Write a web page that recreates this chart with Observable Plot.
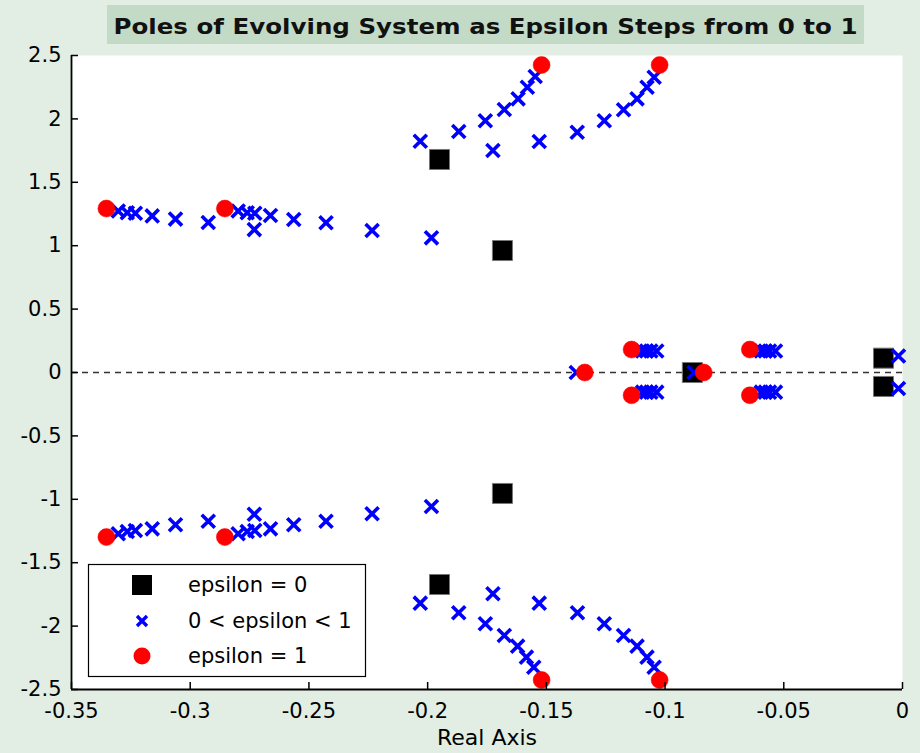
<!DOCTYPE html>
<html><head><meta charset="utf-8">
<script src="https://cdn.jsdelivr.net/npm/d3@7"></script>
<script src="https://cdn.jsdelivr.net/npm/@observablehq/plot@0.6"></script>
<style>
body{margin:0;background:#e2ede3;}
#wrap{position:relative;width:920px;height:753px;background:#e2ede3;overflow:hidden;}
#wrap svg{position:absolute;left:0;top:0;}
</style></head><body><div id="wrap"></div>
<script>
const titleText = "Poles of Evolving System as Epsilon Steps from 0 to 1";
const xLabel = "Real Axis";
const xTicks = [-0.35, -0.3, -0.25, -0.2, -0.15, -0.1, -0.05, 0];
const yTicks = [-2.5, -2, -1.5, -1, -0.5, 0, 0.5, 1, 1.5, 2, 2.5];
const legendLabels = ["epsilon = 0", "0 < epsilon < 1", "epsilon = 1"];

// epsilon = 0 poles
const eps0Re = [-0.195, -0.1685, -0.195, -0.1685, -0.0885, -0.008, -0.008];
const eps0Im = [1.68, 0.962, -1.672, -0.954, 0, 0.113, -0.11];

// 0 < epsilon < 1 poles
const midRe = [
  -0.2031, -0.1869, -0.1757, -0.1677, -0.1619, -0.1580, -0.1547,
  -0.1725, -0.1530, -0.1370, -0.1256, -0.1175, -0.1118, -0.1076, -0.1046,
  -0.3303, -0.3265, -0.3231, -0.3160, -0.3062, -0.2924,
  -0.2798, -0.2760, -0.2728, -0.2730, -0.2662, -0.2564, -0.2428, -0.2234, -0.1984,
  -0.3303, -0.3265, -0.3231, -0.3160, -0.3062, -0.2924,
  -0.2798, -0.2760, -0.2728, -0.2730, -0.2662, -0.2564, -0.2428, -0.2234, -0.1984,
  -0.2031, -0.1869, -0.1757, -0.1677, -0.1621, -0.1584, -0.1553,
  -0.1725, -0.1530, -0.1369, -0.1256, -0.1175, -0.1118, -0.1076, -0.1046,
  -0.1095, -0.1078, -0.1060, -0.1035,
  -0.1095, -0.1078, -0.1060, -0.1035,
  -0.0595, -0.0578, -0.0560, -0.0535,
  -0.0595, -0.0578, -0.0560, -0.0535,
  -0.1374, -0.0878, -0.0017, -0.0017
];
const midIm = [
  1.824, 1.901, 1.985, 2.074, 2.158, 2.250, 2.334,
  1.751, 1.822, 1.895, 1.985, 2.072, 2.158, 2.250, 2.329,
  1.274, 1.260, 1.256, 1.235, 1.210, 1.183,
  1.274, 1.260, 1.256, 1.127, 1.238, 1.207, 1.181, 1.120, 1.062,
  -1.272, -1.254, -1.246, -1.233, -1.201, -1.173,
  -1.272, -1.254, -1.246, -1.118, -1.233, -1.201, -1.173, -1.114, -1.057,
  -1.819, -1.895, -1.982, -2.074, -2.158, -2.245, -2.324,
  -1.745, -1.819, -1.895, -1.982, -2.074, -2.158, -2.245, -2.324,
  0.170, 0.170, 0.170, 0.170,
  -0.155, -0.155, -0.155, -0.155,
  0.170, 0.170, 0.170, 0.170,
  -0.155, -0.155, -0.155, -0.155,
  0, 0, 0.130, -0.126
];

// epsilon = 1 poles
const eps1Re = [-0.152, -0.1023, -0.152, -0.1023, -0.3353, -0.2854, -0.3353, -0.2854, -0.1338, -0.0837, -0.1141, -0.1141, -0.0643, -0.0643];
const eps1Im = [2.425, 2.425, -2.425, -2.425, 1.293, 1.293, -1.298, -1.298, 0, 0, 0.181, -0.18, 0.181, -0.18];

const toPts = (re, im) => re.map((r, i) => ({x: r, y: im[i]}));
const eps0 = toPts(eps0Re, eps0Im);
const mid = toPts(midRe, midIm);
const eps1 = toPts(eps1Re, eps1Im);

const W = 920, H = 753, mL = 71, mR = 18, mT = 55, mB = 64;
const fw = W - mL - mR, fh = H - mT - mB;
const fmt = d => d === 0 ? "0" : String(d);
const font = "DejaVu Sans";

const chart = Plot.plot({
  width: W, height: H,
  marginLeft: mL, marginRight: mR, marginTop: mT, marginBottom: mB,
  style: {background: "transparent", fontFamily: font, fontSize: "21px", color: "black", overflow: "visible"},
  x: {domain: [-0.35, 0], label: null},
  y: {domain: [-2.5, 2.5], label: null},
  marks: [
    Plot.frame({fill: "white", stroke: null}),
    Plot.ruleY([0], {stroke: "#333", strokeWidth: 1.6, strokeDasharray: "6,5"}),
    Plot.dot(eps0, {x: "x", y: "y", symbol: "square", r: 11.3, fill: "black", stroke: "#777", strokeWidth: 1}),
    Plot.dot(mid, {x: "x", y: "y", symbol: "times", r: 6, stroke: "#0000ff", strokeWidth: 3.6}),
    Plot.dot(eps1, {x: "x", y: "y", r: 8.5, fill: "#ff0000", stroke: "#ff0000", strokeWidth: 0.5}),
    Plot.tickX(xTicks, {x: d => d, stroke: "black", strokeWidth: 1.5, insetTop: fh - 7}),
    Plot.tickY(yTicks, {y: d => d, stroke: "black", strokeWidth: 1.5, insetRight: fw - 7}),
    Plot.ruleX([-0.35], {stroke: "black", strokeWidth: 1.8}),
    Plot.ruleY([-2.5], {stroke: "black", strokeWidth: 1.8}),
    Plot.axisX({ticks: xTicks, tickFormat: fmt, tickSize: 0, tickPadding: 14, fontSize: 21, label: null}),
    Plot.axisY({ticks: yTicks, tickFormat: fmt, tickSize: 0, tickPadding: 10, fontSize: 21, label: null}),
    Plot.text([xLabel], {frameAnchor: "bottom", dy: 55, fontSize: 22, fill: "black"})
  ]
});
const wrap = document.getElementById("wrap");
wrap.appendChild(chart);

// Title and legend overlays
const over = d3.select(wrap).append("svg").attr("width", W).attr("height", H)
  .style("pointer-events", "none").style("font-family", font);
over.append("rect").attr("x", 107).attr("y", 5).attr("width", 757).attr("height", 39).attr("fill", "#c3dbc6");
over.append("text").attr("x", 485.5).attr("y", 26).attr("text-anchor", "middle")
  .attr("dominant-baseline", "central").attr("font-size", 22).attr("font-weight", "bold")
  .attr("textLength", 744).attr("lengthAdjust", "spacingAndGlyphs").attr("fill", "#111").text(titleText);

const lg = over.append("g");
lg.append("rect").attr("x", 88.5).attr("y", 564.5).attr("width", 277).attr("height", 112)
  .attr("fill", "white").attr("stroke", "black").attr("stroke-width", 1.2);
const ly = [585, 621, 656];
lg.append("rect").attr("x", 132).attr("y", ly[0] - 10).attr("width", 20).attr("height", 20).attr("fill", "black");
lg.append("path").attr("d", `M137,${ly[1]-5}L147,${ly[1]+5}M137,${ly[1]+5}L147,${ly[1]-5}`)
  .attr("stroke", "#0000ff").attr("stroke-width", 3.4);
lg.append("circle").attr("cx", 142).attr("cy", ly[2]).attr("r", 8.5).attr("fill", "#ff0000");
legendLabels.forEach((t, i) => {
  lg.append("text").attr("x", 188).attr("y", ly[i]).attr("dominant-baseline", "central")
    .attr("font-size", 21).attr("fill", "black").text(t);
});
</script>
</body></html>
